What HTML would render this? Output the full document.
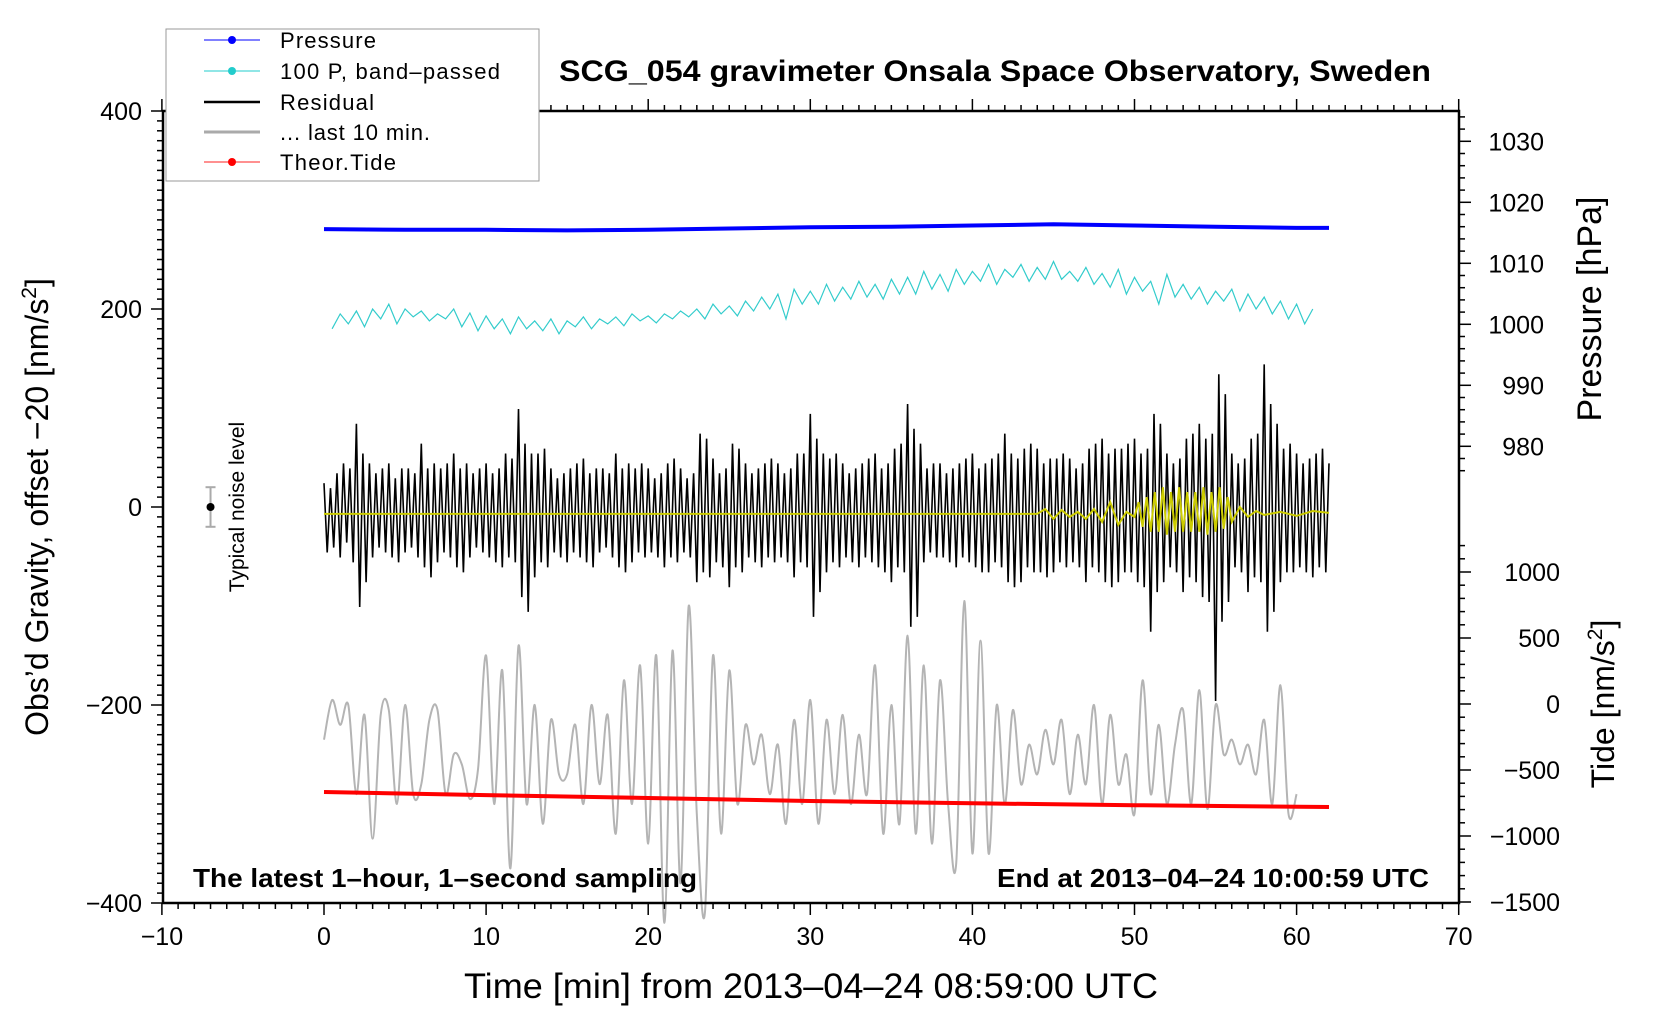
<!DOCTYPE html>
<html><head><meta charset="utf-8"><style>
html,body{margin:0;padding:0;background:#fff;overflow:hidden;}
svg{display:block;font-family:"Liberation Sans",sans-serif;}
</style></head><body>
<svg id="chart" width="1660" height="1020" viewBox="0 0 1660 1020">
<g id="marks"></g>
<g id="axes"></g>
<rect x="166" y="29" width="373" height="152" fill="#fff" stroke="#999" stroke-width="1"/>
<g><line x1="204" y1="40" x2="260" y2="40" stroke="#00f" stroke-width="1"/><circle cx="232" cy="40" r="4" fill="#00f"/><text x="280" y="48" font-size="22" textLength="96">Pressure</text></g>
<g><line x1="204" y1="71" x2="260" y2="71" stroke="#2cc" stroke-width="1"/><circle cx="232" cy="71" r="4" fill="#2cc"/><text x="280" y="79" font-size="22" textLength="220">100 P, band–passed</text></g>
<g><line x1="204" y1="102" x2="260" y2="102" stroke="#000" stroke-width="2.5"/><text x="280" y="110" font-size="22" textLength="94">Residual</text></g>
<g><line x1="204" y1="132" x2="260" y2="132" stroke="#aaa" stroke-width="3"/><text x="280" y="140" font-size="22" textLength="150">... last 10 min.</text></g>
<g><line x1="204" y1="162" x2="260" y2="162" stroke="#f22" stroke-width="1"/><circle cx="232" cy="162" r="4" fill="#f00"/><text x="280" y="170" font-size="22" textLength="116">Theor.Tide</text></g>
<text x="559" y="81" font-size="30" font-weight="bold" textLength="872" lengthAdjust="spacingAndGlyphs">SCG_054 gravimeter Onsala Space Observatory, Sweden</text>
<text x="193" y="887" font-size="26" font-weight="bold" textLength="504" lengthAdjust="spacingAndGlyphs">The latest 1–hour, 1–second sampling</text>
<text x="997" y="887" font-size="26" font-weight="bold" textLength="432" lengthAdjust="spacingAndGlyphs">End at 2013–04–24 10:00:59 UTC</text>
<text x="464" y="998" font-size="35" textLength="694" lengthAdjust="spacingAndGlyphs">Time [min] from 2013–04–24 08:59:00 UTC</text>
<text transform="translate(48,507) rotate(-90)" font-size="32" text-anchor="middle">Obs’d Gravity, offset −20 [nm/s<tspan dy="-12" font-size="21">2</tspan><tspan dy="12">]</tspan></text>
<text transform="translate(1601,309) rotate(-90)" font-size="34" text-anchor="middle">Pressure [hPa]</text>
<text transform="translate(1614,704) rotate(-90)" font-size="32" text-anchor="middle">Tide [nm/s<tspan dy="-12" font-size="21">2</tspan><tspan dy="12">]</tspan></text>
<text transform="translate(244,507) rotate(-90)" font-size="21" text-anchor="middle">Typical noise level</text>
</svg>
<script>
const residualPerMin = [
[30,-40,25,-35,40],[-45,50,-30,45,-50],[90,-95,60,-70,50],[-45,40,-35,45,-40],[50,-45,35,-50,45],
[-40,45,-35,40,-45],[70,-55,45,-65,50],[-50,45,-40,50,-45],[60,-55,45,-60,50],[-45,40,-35,45,-40],
[50,-45,40,-50,45],[-55,60,-45,55,-50],[105,-85,70,-100,60],[-65,60,-50,65,-55],[45,-40,35,-45,40],
[-50,45,-40,50,-45],[55,-50,40,-55,45],[-40,45,-35,40,-45],[60,-55,45,-60,50],[-50,45,-40,50,-45],
[45,-40,35,-45,40],[-55,50,-45,55,-50],[45,-40,35,-45,40],[-70,80,-60,75,-65],[55,-50,40,-55,45],
[-75,70,-55,65,-60],[50,-45,40,-50,45],[-55,50,-45,55,-50],[50,-45,40,-50,45],[-65,60,-50,60,-55],
[100,-105,75,-80,60],[-60,55,-50,60,-55],[50,-45,40,-50,45],[-55,50,-45,55,-50],[60,-55,45,-60,50],
[-70,65,-55,70,-60],[110,-115,85,-105,70],[-50,45,-40,50,-45],[50,-45,40,-50,45],[-55,50,-45,55,-50],
[60,-55,45,-60,50],[-60,55,-50,60,-55],[80,-70,60,-75,55],[-70,65,-55,70,-60],[65,-60,50,-65,55],
[-60,55,-50,60,-55],[55,-50,45,-55,50],[-70,65,-55,70,-60],[75,-70,60,-75,65],[-70,65,-60,70,-60],
[75,-70,60,-75,65],[-120,100,-80,90,-70],[60,-55,50,-60,55],[-80,75,-65,80,-70],[90,-85,75,-90,80],
[-190,140,-110,120,-90],[60,-55,50,-60,55],[-80,75,-65,80,-70],[150,-120,110,-100,90],[-70,65,-60,70,-60],
[60,-55,50,-60,55],[-65,60,-55,65,-60],[50]
];
const residualOffset = -6;
const lastTenValues = [-235,-195,-220,-200,-290,-210,-335,-210,-205,-300,-200,-290,-280,-215,-205,-290,-250,-260,-295,-265,
-150,-300,-165,-365,-140,-300,-200,-320,-215,-270,-270,-220,-300,-200,-280,-210,-330,-175,-300,-160,
-340,-150,-420,-145,-380,-100,-310,-410,-150,-330,-165,-300,-220,-260,-230,-290,-240,-320,-215,-300,
-195,-320,-215,-290,-210,-300,-230,-290,-160,-330,-200,-320,-130,-330,-160,-340,-175,-300,-360,-95,
-350,-135,-350,-200,-300,-205,-280,-240,-270,-225,-260,-215,-290,-230,-280,-200,-300,-210,-280,-250,
-310,-175,-290,-220,-300,-240,-205,-300,-185,-305,-200,-250,-235,-260,-240,-270,-215,-300,-180,-310,-290];
const bandPassed = [180,195,185,198,182,200,190,205,185,200,192,198,188,195,190,200,182,196,178,193,180,190,
175,192,180,188,178,190,175,188,182,192,180,190,185,192,183,195,188,193,186,195,190,198,192,200,190,205,195,203,193,208,
198,212,200,215,190,220,205,218,205,225,208,222,210,228,212,225,210,230,215,232,215,238,220,235,218,240,225,238,228,245,
225,240,232,245,228,242,230,248,230,238,228,242,225,236,222,240,215,232,218,228,205,235,212,225,210,222,205,218,208,220,
198,215,200,212,195,208,190,205,185,200];
const pressureTimes = [0,5,10,15,20,25,30,35,40,45,50,55,60,62];
const pressureValues = [1015.6,1015.5,1015.5,1015.4,1015.5,1015.7,1015.9,1016.0,1016.2,1016.4,1016.2,1016.0,1015.8,1015.8];
const tideTimes = [0,10,20,30,40,50,62];
const tideValues = [-667,-690,-712,-735,-752,-767,-780];
const filtTimes = [0,44,44.5,45,45.5,46,46.5,47,47.5,48,48.5,49,49.5,50,50.25,50.5,50.75,51,51.25,51.5,51.75,52,52.25,52.5,52.75,53,53.25,53.5,53.75,54,54.25,54.5,54.75,55,55.25,55.5,55.75,56,56.5,57,57.5,58,59,60,61,62];
const filtValues = [-7,-7,-2,-12,-3,-10,-5,-12,-2,-15,5,-18,-5,-10,5,-20,10,-25,15,-25,20,-28,15,-25,20,-25,15,-25,15,-25,20,-28,15,-25,20,-22,10,-15,0,-10,-4,-8,-5,-9,-4,-6];
const xTicks = [-10,0,10,20,30,40,50,60,70];
const yTicks = [-400,-200,0,200,400];
const pTicks = [980,990,1000,1010,1020,1030];
const tTicks = [-1500,-1000,-500,0,500,1000];

const X = t => 324 + (t) * 16.21;
const Y = v => 507 - v * 0.99;
const P = h => 324.3 - (h - 1000) * 6.1;
const T = v => 704 - v * 0.132;
const NS = 'http://www.w3.org/2000/svg';
const marks = document.getElementById('marks');
const axes = document.getElementById('axes');
function mk(tag, parent, attrs){const e=document.createElementNS(NS,tag);for(const k in attrs)e.setAttribute(k,attrs[k]);parent.appendChild(e);return e;}
function poly(pts){return pts.map(p=>p[0].toFixed(1)+','+p[1].toFixed(1)).join(' ');}

let gp = lastTenValues.map((v,i)=>[X(i*60/(lastTenValues.length-1)),Y(v)]);
let gd = 'M'+gp[0][0]+','+gp[0][1];
for(let i=0;i<gp.length-1;i++){const p0=gp[Math.max(0,i-1)],p1=gp[i],p2=gp[i+1],p3=gp[Math.min(gp.length-1,i+2)];
gd+=' C'+(p1[0]+(p2[0]-p0[0])/6).toFixed(1)+','+(p1[1]+(p2[1]-p0[1])/6).toFixed(1)+' '+(p2[0]-(p3[0]-p1[0])/6).toFixed(1)+','+(p2[1]-(p3[1]-p1[1])/6).toFixed(1)+' '+p2[0].toFixed(1)+','+p2[1].toFixed(1);}
const g = mk('path', marks, {d:gd, fill:'none', stroke:'#b4b4b4', 'stroke-width':2});



const rp=[];residualPerMin.forEach((arr,m)=>arr.forEach((v,k)=>rp.push([X(m+k/arr.length),Y(v+residualOffset)])));
const r = mk('polyline', marks, {points:poly(rp), fill:'none', stroke:'#000', 'stroke-width':1.6});



const f = mk('polyline', marks, {points:poly(filtTimes.map((t,i)=>[X(t),Y(filtValues[i])])), fill:'none', stroke:'#cc0', 'stroke-width':2});



const c = mk('polyline', marks, {points:poly(bandPassed.map((v,i)=>[X(0.5+i*0.5),Y(v)])), fill:'none', stroke:'#3cc', 'stroke-width':1.2});



const b = mk('polyline', marks, {points:poly(pressureTimes.map((t,i)=>[X(t),P(pressureValues[i])])), fill:'none', stroke:'#00f', 'stroke-width':4});



const rt = mk('polyline', marks, {points:poly(tideTimes.map((t,i)=>[X(t),T(tideValues[i])])), fill:'none', stroke:'#f00', 'stroke-width':4});



const nb = mk('g', marks, {});


mk('line', nb, {x1:X(-7),y1:Y(20),x2:X(-7),y2:Y(-20),stroke:'#aaa','stroke-width':2});
mk('line', nb, {x1:X(-7)-5,y1:Y(20),x2:X(-7)+5,y2:Y(20),stroke:'#aaa','stroke-width':2});
mk('line', nb, {x1:X(-7)-5,y1:Y(-20),x2:X(-7)+5,y2:Y(-20),stroke:'#aaa','stroke-width':2});
mk('circle', nb, {cx:X(-7),cy:Y(0),r:4,fill:'#000'});

const fr = mk('rect', axes, {x:163,y:111,width:1296,height:792,fill:'none',stroke:'#000','stroke-width':2.5});


for(let t=-10;t<=70;t++){const maj=t%10===0;const L=maj?12:6;
mk('line',axes,{x1:X(t),y1:903,x2:X(t),y2:903+L,stroke:'#000','stroke-width':1.5});
mk('line',axes,{x1:X(t),y1:111,x2:X(t),y2:111-L,stroke:'#000','stroke-width':1.5});}
xTicks.forEach(t=>{const e=mk('text',axes,{x:X(t),y:945,'font-size':25,'text-anchor':'middle'});e.textContent=(t<0?'−'+(-t):t);

});
for(let v=-400;v<=400;v+=10){const maj=v%200===0;mk('line',axes,{x1:163,y1:Y(v),x2:163-(maj?12:6),y2:Y(v),stroke:'#000','stroke-width':1.5});}
yTicks.forEach(v=>{const e=mk('text',axes,{x:142,y:Y(v)+9,'font-size':25,'text-anchor':'end'});e.textContent=(v<0?'−'+(-v):v);

});
for(let h=976;h<=1034;h+=2){const maj=h%10===0;mk('line',axes,{x1:1459,y1:P(h),x2:1459+(maj?12:6),y2:P(h),stroke:'#000','stroke-width':1.5});}
pTicks.forEach(h=>{const e=mk('text',axes,{x:1544,y:P(h)+9,'font-size':25,'text-anchor':'end'});e.textContent=h;

});
for(let v=-1500;v<=1200;v+=100){const maj=v%500===0;mk('line',axes,{x1:1459,y1:T(v),x2:1459+(maj?12:6),y2:T(v),stroke:'#000','stroke-width':1.5});}
tTicks.forEach(v=>{const e=mk('text',axes,{x:1560,y:T(v)+9,'font-size':25,'text-anchor':'end'});e.textContent=(v<0?'−'+(-v):v);

});
</script>
</body></html>
